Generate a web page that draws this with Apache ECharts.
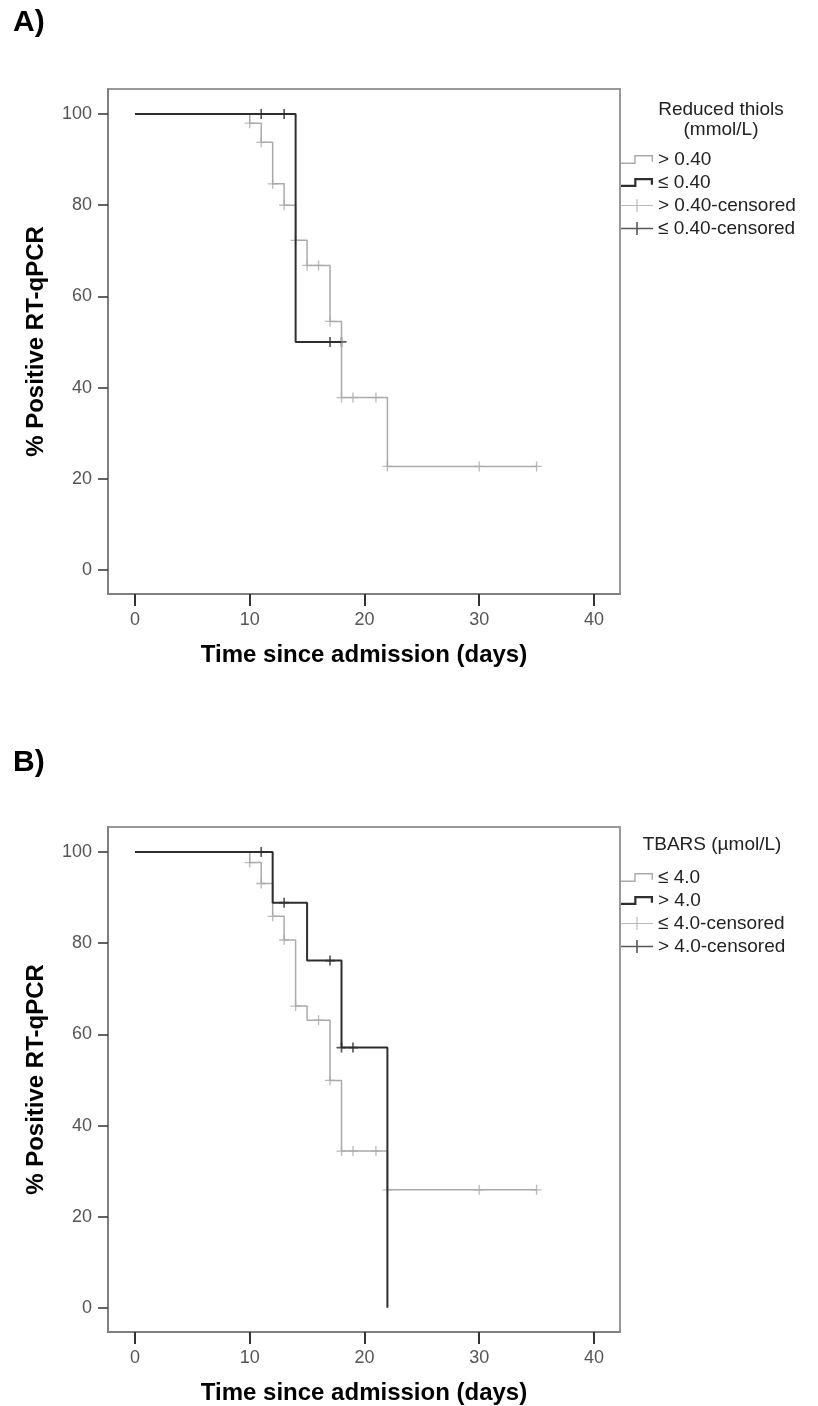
<!DOCTYPE html>
<html>
<head>
<meta charset="utf-8">
<script src="https://cdn.jsdelivr.net/npm/echarts@6/dist/echarts.min.js"></script>
<style>
html, body { margin: 0; background: #fff; }
#chart { width: 818px; height: 1406px; }
</style>
</head>
<body>
<div id="chart"></div>
<script>
// A) reduced thiols (mmol/L)
let thiolHighTime = [0, 10, 11, 12, 13, 14, 15, 17, 18, 22, 35];
let thiolHighPct = [100, 98, 93.8, 84.7, 80, 72.3, 66.8, 54.5, 37.8, 22.7, 22.7];
let thiolHighCensTime = [10, 11, 12, 13, 14, 15, 16, 17, 18, 19, 21, 22, 30, 35];
let thiolHighCensPct = [98, 93.8, 84.7, 80, 72.3, 66.8, 66.8, 54.5, 37.8, 37.8, 37.8, 22.7, 22.7, 22.7];
let thiolLowTime = [0, 14, 18];
let thiolLowPct = [100, 50, 50];
let thiolLowCensTime = [11, 13, 17, 18];
let thiolLowCensPct = [100, 100, 50, 50];

// B) TBARS (umol/L)
let tbarsLowTime = [0, 10, 11, 12, 13, 14, 15, 17, 18, 22, 35];
let tbarsLowPct = [100, 97.7, 93.1, 85.9, 80.7, 66.2, 63.1, 49.9, 34.4, 25.9, 25.9];
let tbarsLowCensTime = [10, 11, 12, 13, 14, 16, 17, 18, 19, 21, 22, 30, 35];
let tbarsLowCensPct = [97.7, 93.1, 85.9, 80.7, 66.2, 63.1, 49.9, 34.4, 34.4, 34.4, 25.9, 25.9, 25.9];
let tbarsHighTime = [0, 12, 15, 18, 22];
let tbarsHighPct = [100, 88.9, 76.2, 57.1, 0];
let tbarsHighCensTime = [11, 13, 17, 18, 19];
let tbarsHighCensPct = [100, 88.9, 76.2, 57.1, 57.1];

let xTicks = [0, 10, 20, 30, 40];
let yTicks = [0, 20, 40, 60, 80, 100];

const LIGHT = '#aaaaaa';
const DARK = '#2e2e2e';
const FONT = '"Liberation Sans", Arial, sans-serif';

function pairs(xs, ys) {
    return xs.map((x, i) => [x, ys[i]]);
}

// little step shape for the legend
function stepIcon(t) {
    return 'path://M0,' + (8 - t) + 'L12,' + (8 - t) + 'L12,0L29,0L29,6L' + (29 - t) + ',6L' + (29 - t) + ',' + t +
        'L' + (12 + t) + ',' + t + 'L' + (12 + t) + ',8L0,8Z';
}
// long dash with a tick in the middle for the legend
function censIcon(t) {
    let a = 16 - t / 2, b = 16 + t / 2, c = 6.5 - t / 2, d = 6.5 + t / 2;
    return 'path://M0,' + c + 'L' + a + ',' + c + 'L' + a + ',0L' + b + ',0L' + b + ',' + c + 'L32,' + c + 'L32,' + d +
        'L' + b + ',' + d + 'L' + b + ',13L' + a + ',13L' + a + ',' + d + 'L0,' + d + 'Z';
}
// plus sign used for censored cases
function plus(t) {
    let a = 4.5 - t / 2, b = 4.5 + t / 2;
    return 'path://M' + a + ',0L' + b + ',0L' + b + ',' + a + 'L9,' + a + 'L9,' + b + 'L' + b + ',' + b + 'L' + b + ',9L' +
        a + ',9L' + a + ',' + b + 'L0,' + b + 'L0,' + a + 'L' + a + ',' + a + 'Z';
}

function stepSeries(name, idx, xs, ys, color, width) {
    return {
        name: name, type: 'line', xAxisIndex: idx, yAxisIndex: idx, step: 'end',
        symbol: 'none', data: pairs(xs, ys),
        lineStyle: { color: color, width: width }, itemStyle: { color: color }
    };
}
function censSeries(name, idx, xs, ys, color, t) {
    return {
        name: name, type: 'scatter', xAxisIndex: idx, yAxisIndex: idx,
        symbol: plus(t), symbolSize: 10, data: pairs(xs, ys),
        itemStyle: { color: color, borderWidth: 0 }
    };
}

function xAxisFor(idx) {
    return {
        type: 'value', gridIndex: idx, min: -2.35, max: 42.27,
        name: 'Time since admission (days)', nameLocation: 'middle', nameGap: 49,
        nameTextStyle: { fontFamily: FONT, fontSize: 24, fontWeight: 'bold', color: '#000' },
        axisLine: { show: true, onZero: false, lineStyle: { color: '#808080', width: 2 } },
        axisTick: { show: true, inside: false, length: 12, customValues: xTicks, lineStyle: { color: '#333', width: 2 } },
        axisLabel: { customValues: xTicks, margin: 17, fontFamily: FONT, fontSize: 18, color: '#555' },
        splitLine: { show: false }
    };
}
function yAxisFor(idx) {
    return {
        type: 'value', gridIndex: idx, min: -5.3, max: 105.5,
        name: '% Positive RT-qPCR', nameLocation: 'middle', nameGap: 60,
        nameTextStyle: { fontFamily: FONT, fontSize: 24, fontWeight: 'bold', color: '#000' },
        axisLine: { show: true, onZero: false, lineStyle: { color: '#808080', width: 2 } },
        axisTick: { show: true, inside: false, length: 10, customValues: yTicks, lineStyle: { color: '#333', width: 1.5 } },
        axisLabel: { customValues: yTicks, margin: 16, fontFamily: FONT, fontSize: 18, color: '#555' },
        splitLine: { show: false }
    };
}

function legendFor(top, names) {
    return {
        orient: 'vertical', left: 621, top: top, padding: 0, itemGap: 4,
        itemWidth: 32, itemHeight: 13, selectedMode: false,
        itemStyle: { borderWidth: 0 },
        textStyle: { fontFamily: FONT, fontSize: 19, color: '#222' },
        data: [
            { name: names[0], icon: stepIcon(1.3), itemStyle: { color: LIGHT, borderWidth: 0 } },
            { name: names[1], icon: stepIcon(2), itemStyle: { color: DARK, borderWidth: 0 } },
            { name: names[2], icon: censIcon(1.2), itemStyle: { color: LIGHT, borderWidth: 0 } },
            { name: names[3], icon: censIcon(1.6), itemStyle: { color: DARK, borderWidth: 0 } }
        ]
    };
}

let namesA = ['> 0.40', '≤ 0.40', '> 0.40-censored', '≤ 0.40-censored'];
let namesB = ['≤ 4.0', '> 4.0', '≤ 4.0-censored', '> 4.0-censored'];

let chart = echarts.init(document.getElementById('chart'));
let option = {
    animation: false,
    backgroundColor: '#fff',
    grid: [
        { left: 108, top: 89, width: 512, height: 505, show: true, borderColor: '#999', borderWidth: 2 },
        { left: 108, top: 827, width: 512, height: 505, show: true, borderColor: '#999', borderWidth: 2 }
    ],
    xAxis: [xAxisFor(0), xAxisFor(1)],
    yAxis: [yAxisFor(0), yAxisFor(1)],
    legend: [legendFor(150, namesA), legendFor(868, namesB)],
    graphic: [
        { type: 'text', left: 13, top: 8, style: { text: 'A)', font: 'bold 30px ' + FONT, fill: '#000' } },
        { type: 'text', left: 13, top: 748, style: { text: 'B)', font: 'bold 30px ' + FONT, fill: '#000' } },
        { type: 'text', x: 721, y: 100, style: { text: 'Reduced thiols\n(mmol/L)', font: '19px ' + FONT, fill: '#222', align: 'center', lineHeight: 20 } },
        { type: 'text', x: 712, y: 835, style: { text: 'TBARS (µmol/L)', font: '19px ' + FONT, fill: '#222', align: 'center' } }
    ],
    series: [
        stepSeries(namesA[0], 0, thiolHighTime, thiolHighPct, LIGHT, 1.5),
        stepSeries(namesA[1], 0, thiolLowTime, thiolLowPct, DARK, 2),
        censSeries(namesA[2], 0, thiolHighCensTime, thiolHighCensPct, LIGHT, 1.2),
        censSeries(namesA[3], 0, thiolLowCensTime, thiolLowCensPct, DARK, 1.5),
        stepSeries(namesB[0], 1, tbarsLowTime, tbarsLowPct, LIGHT, 1.5),
        stepSeries(namesB[1], 1, tbarsHighTime, tbarsHighPct, DARK, 2),
        censSeries(namesB[2], 1, tbarsLowCensTime, tbarsLowCensPct, LIGHT, 1.2),
        censSeries(namesB[3], 1, tbarsHighCensTime, tbarsHighCensPct, DARK, 1.5)
    ]
};
chart.setOption(option);
</script>
</body>
</html>
